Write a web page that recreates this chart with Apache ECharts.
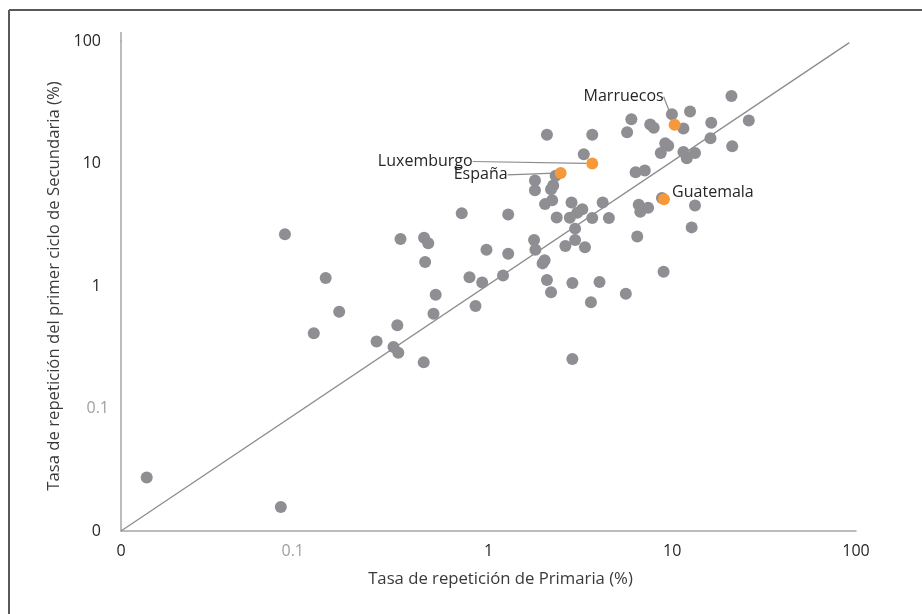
<!DOCTYPE html>
<html>
<head>
<meta charset="utf-8">
<script src="https://cdn.jsdelivr.net/npm/echarts@6/dist/echarts.min.js"></script>
<style>
html,body{margin:0;padding:0;background:#fff;}
#chart{width:922px;height:614px;}
</style>
</head>
<body>
<div id="chart"></div>
<script>
// Gray points: primary repetition rate (x, %) and lower-secondary repetition rate (y, %)
const primaria = [
  21.0, 12.5, 9.96, 5.99, 7.59, 7.93, 11.5, 16.3, 26.1, 5.68,
  2.08, 3.67, 9.16, 9.51, 16.15, 21.2, 8.66, 11.5, 12.0, 13.3,
  3.30, 6.32, 7.09, 2.32, 1.79, 1.79, 2.25, 2.19, 8.79, 2.03,
  2.22, 2.83, 4.18, 6.57, 6.70, 7.39, 13.3, 1.28, 0.715, 2.35,
  2.77, 3.04, 3.24, 3.67, 4.52, 12.75, 2.96, 6.45, 1.77, 1.80,
  2.96, 2.62, 3.35, 0.975, 1.28, 1.97, 2.02, 1.20, 8.97, 0.924,
  2.08, 2.86, 4.02, 2.19, 3.61, 5.59, 2.86, 0.078, 0.332, 0.446,
  0.470, 0.452, 0.130, 0.788, 0.516, 0.154, 0.850, 0.502, 0.112, 0.319,
  0.246, 0.304, 0.323, 0.444, 0.0138, 0.0741
];
const secundaria = [
  35.5, 26.6, 25.2, 23.0, 20.8, 19.6, 19.3, 21.5, 22.4, 18.0,
  17.2, 17.2, 14.6, 13.96, 16.1, 13.8, 12.2, 12.4, 11.05, 12.2,
  11.9, 8.49, 8.78, 7.95, 7.25, 6.05, 6.62, 6.16, 5.23, 4.66,
  5.01, 4.81, 4.81, 4.61, 4.04, 4.35, 4.54, 3.83, 3.93, 3.62,
  3.60, 3.96, 4.24, 3.59, 3.59, 3.01, 2.94, 2.54, 2.37, 1.98,
  2.37, 2.12, 2.07, 1.98, 1.83, 1.53, 1.62, 1.22, 1.31, 1.07,
  1.12, 1.06, 1.08, 0.888, 0.736, 0.863, 0.254, 2.64, 2.42, 2.48,
  2.23, 1.57, 1.16, 1.18, 0.849, 0.615, 0.687, 0.593, 0.412, 0.479,
  0.353, 0.318, 0.285, 0.238, 0.0273, 0.0157
];
// Highlighted countries
const paises = ['Marruecos', 'Luxemburgo', 'España', 'Guatemala'];
const paisesPrimaria = [10.3, 3.67, 2.47, 9.01];
const paisesSecundaria = [20.7, 10.0, 8.38, 5.10];
// Diagonal reference line
const diagonal = [[0.01, 0.01], [92, 97]];
// Axis tick labels
const tickValues = [0.01, 0.1, 1, 10, 100];
const tickLabels = ['0', '0.1', '1', '10', '100'];

const labelOffsets = [[-51, -28], [-167, -2], [-80, 2], [49, -7]];
const labelLines = [true, true, true, false];

function tickText(v) {
  let idx = -1;
  for (let i = 0; i < tickValues.length; i++) {
    if (Math.abs(Math.log10(v) - Math.log10(tickValues[i])) < 1e-6) idx = i;
  }
  return idx < 0 ? '' : tickLabels[idx];
}

const FONT = 'Open Sans';
const chart = echarts.init(document.getElementById('chart'), null, {renderer: 'canvas'});
const grayData = primaria.map((x, i) => [x, secundaria[i]]);
const orangeData = paises.map((n, i) => ({
  name: n,
  value: [paisesPrimaria[i], paisesSecundaria[i]],
  labelLine: {show: labelLines[i]}
}));

chart.setOption({
  animation: false,
  grid: {left: 121, right: 66, top: 41, bottom: 83, containLabel: false},
  xAxis: {
    type: 'log', logBase: 10, min: 0.01, max: 100,
    name: 'Tasa de repetición de Primaria (%)',
    nameLocation: 'middle', nameGap: 40,
    nameTextStyle: {fontFamily: FONT, fontSize: 16.7, color: '#3a3a3a', padding: [0, 0, 0, 24]},
    axisLine: {show: true, lineStyle: {color: '#a6a6a6', width: 1.5}},
    axisTick: {show: false},
    splitLine: {show: false},
    axisLabel: {
      margin: 12, fontFamily: FONT, fontSize: 16, color: '#262626',
      formatter: function (v) {
        const t = tickText(v);
        return t === '0.1' ? '{g|' + t + '}' : t;
      },
      rich: {g: {color: '#a0a0a0', fontFamily: FONT, fontSize: 16, padding: [0, 24, 0, 0]}}
    }
  },
  yAxis: {
    type: 'log', logBase: 10, min: 0.01, max: 100,
    name: 'Tasa de repetición del primer ciclo de Secundaria (%)',
    nameLocation: 'middle', nameGap: 57,
    nameTextStyle: {fontFamily: FONT, fontSize: 16.7, color: '#3a3a3a'},
    axisLine: {show: true, lineStyle: {color: '#a6a6a6', width: 1.5}},
    axisTick: {show: false},
    splitLine: {show: false},
    axisLabel: {
      margin: 12, fontFamily: FONT, fontSize: 16, color: '#262626',
      formatter: function (v) {
        const t = tickText(v);
        return t === '0.1' ? '{g|' + t + '}' : '{n|' + t + '}';
      },
      rich: {
        g: {color: '#a0a0a0', fontFamily: FONT, fontSize: 16},
        n: {color: '#262626', fontFamily: FONT, fontSize: 16, padding: [0, 8, 0, 0]}
      }
    }
  },
  series: [
    {
      type: 'line', data: diagonal, symbol: 'none', silent: true, z: 1,
      lineStyle: {color: '#8c8c8c', width: 1.3}
    },
    {
      type: 'scatter', data: grayData, symbolSize: 12, z: 2,
      itemStyle: {color: '#8e8e93', opacity: 1}
    },
    {
      type: 'scatter', data: orangeData, symbolSize: 12, z: 3,
      itemStyle: {color: '#f7993a', opacity: 1},
      label: {
        show: true, position: 'inside', formatter: '{b}',
        fontFamily: FONT, fontSize: 16, color: '#262626'
      },
      labelLine: {show: true, length2: 0, lineStyle: {color: '#8c8c8c', width: 1.2}},
      labelLayout: function (p) {
        const o = labelOffsets[p.dataIndex];
        return {dx: o[0], dy: o[1]};
      }
    }
  ],
  graphic: [
    {type: 'line', shape: {x1: 9, y1: 10, x2: 922, y2: 10}, style: {stroke: '#595959', lineWidth: 2}},
    {type: 'line', shape: {x1: 9, y1: 10, x2: 9, y2: 614}, style: {stroke: '#595959', lineWidth: 2}},
    {type: 'line', shape: {x1: 121, y1: 32, x2: 121, y2: 42}, style: {stroke: '#a6a6a6', lineWidth: 1.5}}
  ]
});
</script>
</body>
</html>
